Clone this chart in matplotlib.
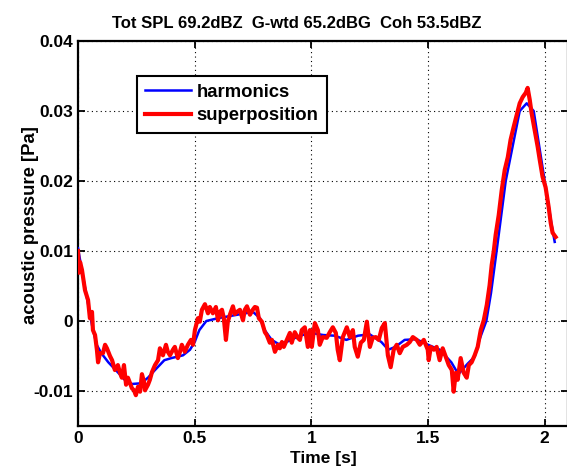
import matplotlib
matplotlib.use("Agg")
import matplotlib.pyplot as plt

plt.rcParams['font.family'] = ['Liberation Sans', 'DejaVu Sans']
plt.rcParams['font.weight'] = 'bold'

# harmonics (smooth)
t_harm = [0.00, 0.02, 0.04, 0.06, 0.08, 0.10, 0.13, 0.17, 0.20, 0.23, 0.27, 0.30,
          0.33, 0.37, 0.40, 0.45, 0.48, 0.50, 0.52, 0.55, 0.60, 0.65, 0.70, 0.75,
          0.78, 0.80, 0.83, 0.86, 0.90, 0.95, 1.00, 1.05, 1.10, 1.15, 1.20, 1.25,
          1.30, 1.33, 1.36, 1.40, 1.45, 1.50, 1.55, 1.60, 1.63, 1.67, 1.70, 1.72,
          1.75, 1.77, 1.794, 1.833, 1.893, 1.923, 1.953, 2.00, 2.03, 2.043]
p_harm = [0.0104, 0.0066, 0.0030, -0.0006, -0.0034, -0.0046, -0.0059, -0.0073,
          -0.0084, -0.0090, -0.0089, -0.0081, -0.0070, -0.0056, -0.0053, -0.0049,
          -0.0041, -0.0030, -0.0013, 0.0000, 0.0004, 0.0007, 0.0010, 0.0013,
          0.0004, -0.0013, -0.0027, -0.0033, -0.0029, -0.0021, -0.0017, -0.0020,
          -0.0021, -0.0027, -0.0021, -0.0019, -0.0030, -0.0041, -0.0037, -0.0027,
          -0.0026, -0.0034, -0.0041, -0.0059, -0.0076, -0.0061, -0.0051, -0.0027,
          0.0000, 0.0040, 0.0100, 0.0200, 0.0300, 0.0311, 0.0300, 0.0200, 0.0137,
          0.0113]

# superposition (noisy)
t_sup = [0.000, 0.004, 0.009, 0.017, 0.030, 0.043, 0.051, 0.060, 0.064, 0.073,
         0.081, 0.086, 0.094, 0.107, 0.116, 0.124, 0.137, 0.146, 0.158, 0.171,
         0.180, 0.188, 0.197, 0.206, 0.214, 0.223, 0.231, 0.240, 0.248, 0.257,
         0.266, 0.274, 0.283, 0.287, 0.300, 0.308, 0.317, 0.330, 0.343, 0.351,
         0.364, 0.377, 0.385, 0.394, 0.407, 0.415, 0.428, 0.437, 0.445, 0.458,
         0.471, 0.484, 0.493, 0.501, 0.514, 0.522, 0.531, 0.544, 0.557, 0.565,
         0.578, 0.591, 0.600, 0.608, 0.617, 0.625, 0.634, 0.642, 0.651, 0.664,
         0.672, 0.681, 0.694, 0.707, 0.715, 0.724, 0.737, 0.749, 0.758, 0.767,
         0.775, 0.788, 0.801, 0.809, 0.822, 0.831, 0.844, 0.857, 0.865, 0.874,
         0.882, 0.895, 0.908, 0.916, 0.929, 0.942, 0.951, 0.959, 0.972, 0.985,
         0.994,
         1.002, 1.015, 1.028, 1.036, 1.049, 1.066, 1.079, 1.092, 1.105, 1.113,
         1.122, 1.135, 1.152, 1.165, 1.178, 1.186, 1.199, 1.212, 1.225, 1.238,
         1.251, 1.263, 1.276, 1.289, 1.302, 1.315, 1.328, 1.340, 1.353, 1.366,
         1.379, 1.392, 1.409, 1.422, 1.435, 1.452, 1.465, 1.482, 1.499,
         1.503, 1.512, 1.525, 1.537, 1.550, 1.563, 1.576, 1.589, 1.602, 1.610,
         1.619, 1.627, 1.640, 1.653, 1.666, 1.675, 1.687, 1.700, 1.713, 1.726,
         1.739, 1.752, 1.764, 1.773, 1.782, 1.790, 1.803, 1.816, 1.829, 1.842,
         1.854, 1.867, 1.880, 1.893, 1.906, 1.919, 1.927, 1.936, 1.944, 1.957,
         1.970, 1.979, 1.991, 2.004, 2.017, 2.026, 2.034, 2.047]
p_sup = [0.0100, 0.0069, 0.0084, 0.0073, 0.0044, 0.0030, 0.0004, 0.0013, -0.0013, -0.0020,
         -0.0041, -0.0059, -0.0046, -0.0046, -0.0034, -0.0039, -0.0050, -0.0056, -0.0070, -0.0063,
         -0.0074, -0.0081, -0.0063, -0.0091, -0.0081, -0.0089, -0.0096, -0.0099, -0.0106, -0.0094,
         -0.0101, -0.0076, -0.0087, -0.0099, -0.0091, -0.0084, -0.0073, -0.0063, -0.0056, -0.0039,
         -0.0049, -0.0034, -0.0044, -0.0049, -0.0041, -0.0037, -0.0053, -0.0044, -0.0034, -0.0044,
         -0.0034, -0.0027, -0.0034, -0.0013, 0.0004, -0.0001, 0.0016, 0.0024, 0.0011, 0.0020,
         0.0011, 0.0020, 0.0001, 0.0013, 0.0016, 0.0004, -0.0027, -0.0001, 0.0009, 0.0021,
         0.0010, 0.0013, 0.0016, 0.0001, 0.0016, 0.0021, 0.0009, 0.0016, 0.0020, 0.0019,
         0.0004, -0.0001, -0.0016, -0.0020, -0.0031, -0.0027, -0.0044, -0.0034, -0.0039, -0.0030,
         -0.0037, -0.0027, -0.0017, -0.0031, -0.0016, -0.0024, -0.0027, -0.0013, -0.0009, -0.0037,
         -0.0013,
         -0.0037, -0.0003, -0.0013, -0.0034, -0.0023, -0.0024, -0.0016, -0.0009, -0.0017, -0.0041,
         -0.0056, -0.0023, -0.0009, -0.0023, -0.0013, -0.0037, -0.0051, -0.0031, -0.0027, -0.0001,
         -0.0037, -0.0024, -0.0023, -0.0027, -0.0010, -0.0003, -0.0049, -0.0066, -0.0041, -0.0034,
         -0.0046, -0.0037, -0.0034, -0.0030, -0.0023, -0.0027, -0.0034, -0.0027, -0.0041,
         -0.0056, -0.0037, -0.0041, -0.0037, -0.0056, -0.0039, -0.0051, -0.0063, -0.0070, -0.0101,
         -0.0074, -0.0084, -0.0053, -0.0074, -0.0081, -0.0063, -0.0059, -0.0049, -0.0037, -0.0013,
         0.0001, 0.0023, 0.0051, 0.0080, 0.0100, 0.0123, 0.0151, 0.0187, 0.0216, 0.0234,
         0.0259, 0.0277, 0.0294, 0.0311, 0.0320, 0.0326, 0.0333, 0.0316, 0.0297, 0.0273,
         0.0249, 0.0230, 0.0206, 0.0191, 0.0163, 0.0140, 0.0126, 0.0120]

x_ticks = [0, 0.5, 1, 1.5, 2]
x_ticklabels = ['0', '0.5', '1', '1.5', '2']
y_ticks = [-0.01, 0, 0.01, 0.02, 0.03, 0.04]
y_ticklabels = ['-0.01', '0', '0.01', '0.02', '0.03', '0.04']

fig = plt.figure(figsize=(5.67, 4.73), dpi=100)
ax = fig.add_axes([78/567, 47/473, 490/567, 385/473])

ax.plot(t_harm, p_harm, color='#0000ff', lw=1.8, label='harmonics', zorder=3)
ax.plot(t_sup, p_sup, color='#ff0000', lw=3.0, label='superposition', zorder=4)

ax.set_xlim(0, 2.1)
ax.set_ylim(-0.015, 0.04)
ax.set_xticks(x_ticks)
ax.set_xticklabels(x_ticklabels)
ax.set_yticks(y_ticks)
ax.set_yticklabels(y_ticklabels)
ax.tick_params(direction='in', length=5, width=1.3, labelsize=12.5, top=True, right=True,
               color='black')
for lab in ax.get_xticklabels() + ax.get_yticklabels():
    lab.set_fontweight('bold')
ax.grid(True, color='black', linestyle=(0, (1, 3)), linewidth=0.8)
for s in ax.spines.values():
    s.set_linewidth(1.6)

ax.set_xlabel('Time [s]', fontsize=12.5, fontweight='bold', labelpad=4)
ax.set_ylabel('acoustic pressure [Pa]', fontsize=13.3, fontweight='bold')
ax.yaxis.set_label_coords(-0.08, 0.522)
ax.set_title('Tot SPL 69.2dBZ  G-wtd 65.2dBG  Coh 53.5dBZ', fontsize=12,
             fontweight='bold', x=0.447, pad=9)

leg = ax.legend(loc='upper left', bbox_to_anchor=(0.12, 0.91), fancybox=False,
                framealpha=1, edgecolor='black', fontsize=13.3, handlelength=2.5,
                borderaxespad=0, borderpad=0.45, labelspacing=0.35, handletextpad=0.28)
leg.get_frame().set_linewidth(1.5)
for txt in leg.get_texts():
    txt.set_fontweight('bold')

fig.savefig('out.png', dpi=100)
